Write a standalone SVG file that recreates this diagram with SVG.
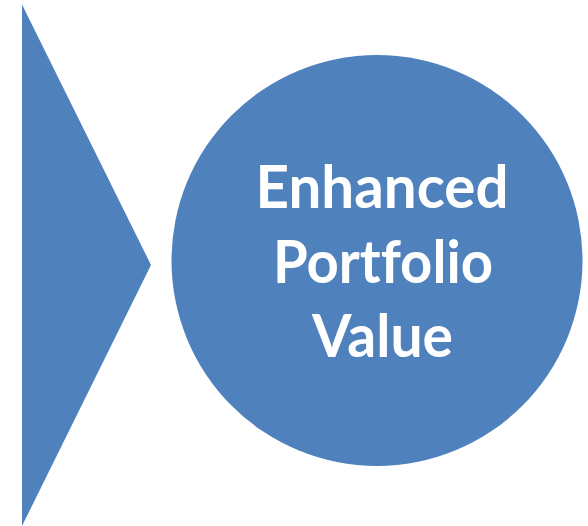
<svg xmlns="http://www.w3.org/2000/svg" width="588" height="526" viewBox="0 0 588 526">
  <style>
    .shape { fill: #4F81BD; }
    .label { fill: #FFFFFF; font-family: Lato, "Open Sans", "Liberation Sans", sans-serif; font-weight: bold; font-size: 60px; text-anchor: middle; font-variant-ligatures: none; }
  </style>
  <rect width="588" height="526" fill="#FFFFFF"/>
  <!-- chevron pointing right -->
  <g id="arrow">
    <polygon class="shape" points="22,4.5 151,265 22,526"/>
  </g>
  <!-- result circle -->
  <g id="enhanced-value">
    <circle class="shape" cx="377" cy="260.5" r="205.5"/>
    <text class="label" x="382" y="208" textLength="253" lengthAdjust="spacingAndGlyphs">Enhanced</text>
    <text class="label" x="383" y="283" textLength="220" lengthAdjust="spacingAndGlyphs">Portfolio</text>
    <text class="label" x="382.5" y="357" textLength="141" lengthAdjust="spacingAndGlyphs">Value</text>
  </g>
  <g id="connectors"/>
</svg>
